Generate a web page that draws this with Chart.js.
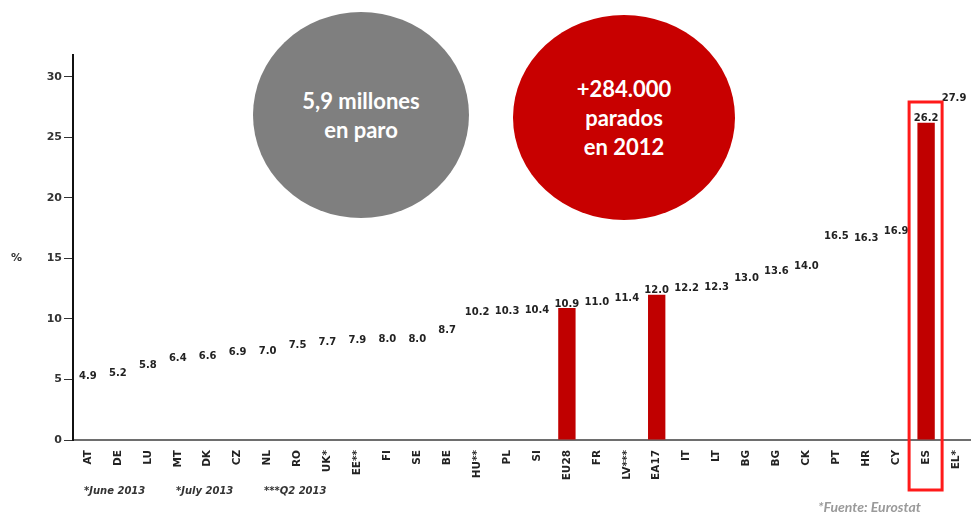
<!DOCTYPE html>
<html>
<head>
<meta charset="utf-8">
<script src="https://cdn.jsdelivr.net/npm/chart.js@4/dist/chart.umd.min.js"></script>
<style>
  html, body { margin: 0; padding: 0; background: #fff; }
  #wrap { position: relative; width: 971px; height: 520px; overflow: hidden; }
  #chart { position: absolute; left: 0; top: 0; }
  .bubble {
    position: absolute; border-radius: 50%;
    display: flex; align-items: center; justify-content: center; text-align: center;
    color: #fff; font-family: Lato, "Open Sans", sans-serif; font-weight: bold;
    font-size: 22px; line-height: 29px;
  }
  .note { position: absolute; font-family: "DejaVu Sans", sans-serif; font-style: italic; font-weight: bold; }
</style>
</head>
<body>
<div id="wrap">
  <canvas id="chart" width="971" height="520"></canvas>
  <div class="bubble" style="left:253px;top:12px;width:216px;height:206px;background:#7f7f7f;">5,9 millones<br>en paro</div>
  <div class="bubble" style="left:513px;top:15px;width:222px;height:205px;background:#c80000;">+284.000<br>parados<br>en 2012</div>
  <div style="position:absolute;left:11px;top:251px;font:bold 11px 'DejaVu Sans',sans-serif;color:#333;">%</div>
  <div class="note" style="left:84px;top:485px;font-size:10px;color:#333;">*June 2013</div>
  <div class="note" style="left:176px;top:485px;font-size:10px;color:#333;">*July 2013</div>
  <div class="note" style="left:264px;top:485px;font-size:10px;color:#333;">***Q2 2013</div>
  <div class="note" style="left:818px;top:498px;font-size:14px;color:#9a9a9a;font-family:Lato,sans-serif;">*Fuente: Eurostat</div>
</div>
<script>
// Unemployment rate by country (%)
const countries = ['AT', 'DE', 'LU', 'MT', 'DK', 'CZ', 'NL', 'RO', 'UK*', 'EE**', 'FI', 'SE', 'BE', 'HU**', 'PL', 'SI',
    'EU28', 'FR', 'LV***', 'EA17', 'IT', 'LT', 'BG', 'BG', 'CK', 'PT', 'HR', 'CY', 'ES', 'EL*'];
const rates = [4.9, 5.2, 5.8, 6.4, 6.6, 6.9, 7.0, 7.5, 7.7, 7.9, 8.0, 8.0, 8.7, 10.2, 10.3, 10.4,
    10.9, 11.0, 11.4, 12.0, 12.2, 12.3, 13.0, 13.6, 14.0, 16.5, 16.3, 16.9, 26.2, 27.9];
const highlighted = ['EU28', 'EA17', 'ES'];
const yTicks = [0, 5, 10, 15, 20, 25, 30];

// only the highlighted bars are drawn
const barData = rates.map((v, i) => highlighted.includes(countries[i]) ? v : null);

const labelPlugin = {
    id: 'valueLabels',
    afterDatasetsDraw(chart) {
        const ctx = chart.ctx;
        const xs = chart.scales.x;
        const ys = chart.scales.y;
        ctx.save();
        ctx.font = 'bold 10px "DejaVu Sans", sans-serif';
        ctx.fillStyle = '#222';
        ctx.textAlign = 'center';
        ctx.textBaseline = 'bottom';
        rates.forEach((v, i) => {
            let x = xs.getPixelForValue(i);
            if (i === rates.length - 1) x -= 2;
            ctx.fillText(v.toFixed(1), x, ys.getPixelForValue(v) + 1);
        });

        // red frame around Spain
        const esX = xs.getPixelForValue(countries.indexOf('ES'));
        ctx.strokeStyle = '#ff1a1a';
        ctx.lineWidth = 3;
        ctx.strokeRect(esX - 17, 102, 33, 388);
        ctx.restore();
    }
};

new Chart(document.getElementById('chart'), {
    type: 'bar',
    data: {
        labels: countries,
        datasets: [{
            data: barData,
            backgroundColor: '#c00000',
            categoryPercentage: 1,
            barPercentage: 0.58
        }]
    },
    options: {
        responsive: false,
        animation: false,
        layout: { padding: { top: 55, right: 0, left: 0, bottom: 0 } },
        plugins: { legend: { display: false }, tooltip: { enabled: false } },
        scales: {
            x: {
                grid: { display: false },
                border: { color: '#6e6e6e', width: 2 },
                ticks: {
                    color: '#222',
                    font: { family: '"DejaVu Sans", sans-serif', size: 10.5, weight: 'bold' },
                    minRotation: 90, maxRotation: 90, padding: 2, autoSkip: false
                },
                afterFit(scale) { scale.height = 80; }
            },
            y: {
                min: 0,
                max: 31.8,
                afterBuildTicks(scale) { scale.ticks = yTicks.map(v => ({ value: v })); },
                grid: { drawOnChartArea: false, drawTicks: true, tickLength: 9, color: '#333' },
                border: { color: '#111', width: 2 },
                ticks: {
                    color: '#333',
                    font: { family: '"DejaVu Sans", sans-serif', size: 11, weight: 'bold' },
                    padding: 2
                },
                afterFit(scale) { scale.width = 73; }
            }
        }
    },
    plugins: [labelPlugin]
});
</script>
</body>
</html>
